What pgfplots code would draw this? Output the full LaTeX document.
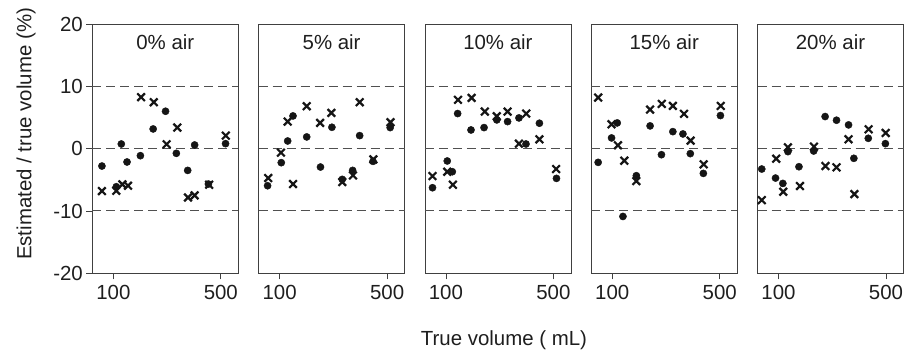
\documentclass[border=0pt]{standalone}
\usepackage{fontspec}
\setmainfont{Liberation Sans}
\usepackage{pgfplots}
\pgfplotsset{compat=1.18}
\definecolor{framegray}{HTML}{404040}
\definecolor{dashgray}{HTML}{505050}
\definecolor{mk}{HTML}{151515}
\definecolor{txt}{HTML}{1E1E1E}
\pgfplotsset{
  every axis/.append style={
    scale only axis, width=146bp, height=249.3bp,
    anchor=south west,
    xmin=73, xmax=650, ymin=-20, ymax=20,
    xtick={100,500}, xticklabels={100,500},
    tick align=outside, major tick length=6bp,
    axis line style={color=framegray, line width=0.8bp},
    xtick pos=bottom, ytick pos=left,
    minor tick num=0,
    tick label style={font=\fontsize{20.5}{24}\selectfont, text=txt},
    xticklabel style={yshift=-2bp},
    clip=false,
  },
  every tick/.append style={color=framegray, line width=0.8bp},
  mycirc/.style={only marks, mark=*, color=mk, mark size=3.6bp},
  mycrs/.style={only marks, mark=x, color=mk, mark size=5.4bp, mark options={line width=2.2bp}},
  myrefl/.style={color=dashgray, line width=1bp, dash pattern=on 9bp off 5bp, no marks, forget plot},
}
\newcommand{\reflines}{%
  \addplot[myrefl] coordinates {(73,10) (650,10)};
  \addplot[myrefl] coordinates {(73,0) (650,0)};
  \addplot[myrefl] coordinates {(73,-10) (650,-10)};
}
\newcommand{\paneltitle}[1]{\node[font=\fontsize{20.5}{24}\selectfont, text=txt] at (rel axis cs:0.5,0.928) {#1};}
\begin{document}
\begin{tikzpicture}
\path[use as bounding box] (0,0) rectangle (910bp,351bp);

\begin{semilogxaxis}[at={(92.3bp,77.7bp)}, ytick={-20,-10,0,10,20}, yticklabels={-20,-10,0,10,20}]
\reflines
\addplot[mycirc] coordinates {(84.3,-2.79)(104.6,-6.11)(112.7,0.75)(122.8,-2.14)(150,-1.13)(181.6,3.16)(218.6,6.0)(257,-0.75)(304.6,-3.49)(338,0.59)(415.5,-5.68)(537,0.8)};
\addplot[mycrs] coordinates {(84.3,-6.81)(104.6,-6.76)(114.5,-5.74)(124.7,-5.95)(151.6,8.26)(183.4,7.45)(222.2,0.70)(260.6,3.38)(306,-7.83)(338,-7.5)(420,-5.79)(539,2.09)};
\paneltitle{0\% air}
\end{semilogxaxis}

\begin{semilogxaxis}[ytick=\empty, at={(258.6bp,77.7bp)}]
\reflines
\addplot[mycirc] coordinates {(83.5,-5.95)(102.5,-2.25)(112.8,1.23)(122.2,5.25)(150,1.88)(184.4,-2.95)(218.8,3.43)(255.5,-4.93)(298.5,-3.49)(331.6,2.09)(405,-2.04)(523.7,3.38)};
\addplot[mycrs] coordinates {(84.3,-4.72)(102,-0.64)(112.8,4.34)(122.2,-5.68)(150,6.81)(183.4,4.13)(217,5.74)(255.5,-5.36)(300,-4.29)(331.6,7.45)(407,-1.72)(526,4.24)};
\paneltitle{5\% air}
\end{semilogxaxis}

\begin{semilogxaxis}[ytick=\empty, at={(424.9bp,77.7bp)}]
\reflines
\addplot[mycirc] coordinates {(81.8,-6.27)(102,-1.98)(110,-3.70)(119.2,5.63)(145.6,3.0)(177,3.38)(214.3,4.61)(251.8,4.34)(298.5,4.93)(331.6,0.75)(405.5,4.08)(523.6,-4.77)};
\addplot[mycrs] coordinates {(81.8,-4.40)(102,-3.70)(111,-5.79)(119.8,7.83)(147,8.15)(179,5.95)(214,5.2)(251.8,5.95)(298.5,0.8)(333,5.63)(405.5,1.5)(521,-3.27)};
\paneltitle{10\% air}
\end{semilogxaxis}

\begin{semilogxaxis}[ytick=\empty, at={(591.2bp,77.7bp)}]
\reflines
\addplot[mycirc] coordinates {(81,-2.20)(99,1.72)(107.8,4.13)(117.4,-10.88)(143.5,-4.34)(176.3,3.65)(209,-0.97)(247.9,2.73)(288.3,2.36)(322,-0.80)(391.5,-3.97)(505.5,5.31)};
\addplot[mycrs] coordinates {(81,8.20)(99,3.91)(108.9,0.54)(119.8,-1.93)(143.5,-5.20)(176.3,6.27)(210,7.18)(247.9,6.86)(293,5.58)(323.5,1.29)(393.5,-2.52)(508,6.86)};
\paneltitle{15\% air}
\end{semilogxaxis}

\begin{semilogxaxis}[ytick=\empty, at={(757.5bp,77.7bp)}]
\reflines
\addplot[mycirc] coordinates {(77.8,-3.27)(95.6,-4.72)(106.7,-5.58)(115.1,-0.48)(135.8,-2.90)(169.3,-0.38)(200.9,5.15)(238.3,4.56)(285.4,3.81)(309,-1.55)(383.5,1.66)(495.5,0.80)};
\addplot[mycrs] coordinates {(77.8,-8.26)(96.6,-1.61)(107.3,-6.92)(115.1,0.21)(137.8,-6.0)(170,0.32)(202,-2.79)(238.3,-3.0)(285.4,1.50)(311.4,-7.29)(385.5,3.11)(497.7,2.52)};
\paneltitle{20\% air}
\end{semilogxaxis}

\node[rotate=90, font=\fontsize{20.5}{24}\selectfont, text=txt] at (26bp,217bp) {Estimated / true volume (\%)};
\node[font=\fontsize{20.5}{24}\selectfont, text=txt] at (504bp,11bp) {True volume ( mL)};
\end{tikzpicture}
\end{document}
